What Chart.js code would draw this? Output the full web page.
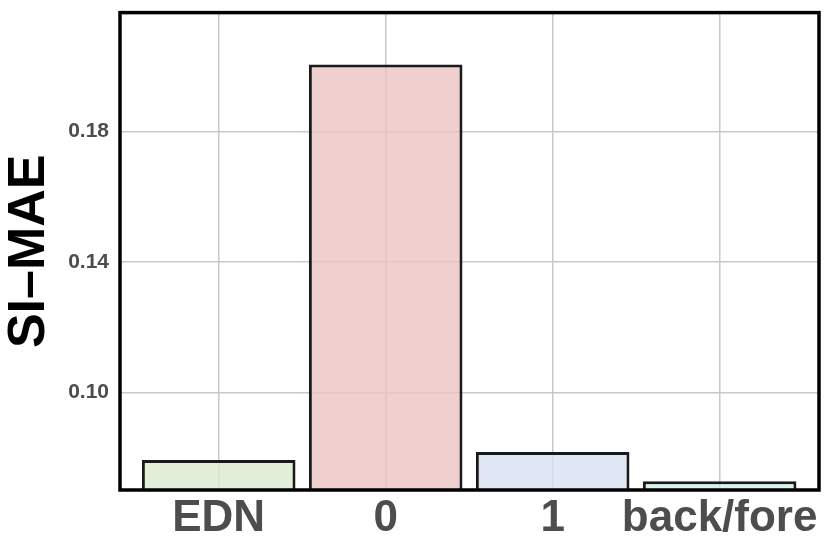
<!DOCTYPE html>
<html>
<head>
<meta charset="utf-8">
<script src="https://cdn.jsdelivr.net/npm/chart.js@4"></script>
<style>
  html, body { margin: 0; padding: 0; background: #fff; }
  #wrap { width: 830px; height: 554px; }
</style>
</head>
<body>
<div id="wrap"><canvas id="barChart"></canvas></div>
<script>
const categories = ["EDN", "0", "1", "back/fore"];
const siMae = [0.0794, 0.2005, 0.0818, 0.0729];
const yTicks = [0.10, 0.14, 0.18];
const barColors = [
  "rgba(219, 235, 206, 0.8)",
  "rgba(236, 196, 194, 0.8)",
  "rgba(215, 225, 245, 0.8)",
  "rgba(205, 236, 236, 0.8)"
];

const points = categories.map((c, i) => ({ x: i + 1, y: siMae[i] }));

// black frame around the plot panel
const framePlugin = {
  id: "frame",
  afterDatasetsDraw(chart) {
    const a = chart.chartArea;
    const ctx = chart.ctx;
    ctx.save();
    ctx.strokeStyle = "#000";
    ctx.lineWidth = 3.5;
    ctx.strokeRect(a.left, a.top, a.right - a.left, a.bottom - a.top);
    ctx.restore();
  }
};

new Chart(document.getElementById("barChart"), {
  type: "bar",
  data: {
    datasets: [{
      data: points,
      backgroundColor: barColors,
      borderColor: "#1a1a1a",
      borderWidth: 3,
      borderSkipped: false,
      categoryPercentage: 0.92,
      barPercentage: 1.0
    }]
  },
  options: {
    responsive: true,
    maintainAspectRatio: false,
    animation: false,
    layout: { autoPadding: false, padding: { top: 12, right: 11, left: 0, bottom: 0 } },
    plugins: { legend: { display: false }, tooltip: { enabled: false } },
    scales: {
      x: {
        type: "linear",
        min: 0.409,
        max: 4.595,
        offset: false,
        afterBuildTicks: s => { s.ticks = categories.map((c, i) => ({ value: i + 1 })); },
        afterFit: s => { s.height = 64; },
        border: { display: false },
        grid: { color: "#c8c8c8", lineWidth: 1.5, drawTicks: false, offset: false },
        ticks: {
          padding: 2,
          color: "#4d4d4d",
          font: { family: "Liberation Sans, Arial, sans-serif", size: 44, weight: "bold" },
          callback: v => categories[v - 1],
          maxRotation: 0,
          autoSkip: false
        }
      },
      y: {
        min: 0.0702,
        max: 0.2164,
        afterBuildTicks: s => { s.ticks = yTicks.map(v => ({ value: v })); },
        afterFit: s => { s.width = 120; },
        border: { display: false },
        grid: { color: "#c8c8c8", lineWidth: 1.5, drawTicks: true, tickLength: 11, tickColor: "rgba(0,0,0,0)" },
        ticks: {
          padding: 0,
          color: "#4d4d4d",
          font: { family: "Liberation Sans, Arial, sans-serif", size: 21, weight: "bold" },
          callback: v => v.toFixed(2)
        },
        title: {
          display: true,
          text: "SI\u2013MAE",
          color: "#000",
          font: { family: "Liberation Sans, Arial, sans-serif", size: 52, weight: "bold", lineHeight: 1 },
          padding: { top: 4, bottom: 4 }
        }
      }
    }
  },
  plugins: [framePlugin]
});
</script>
</body>
</html>
